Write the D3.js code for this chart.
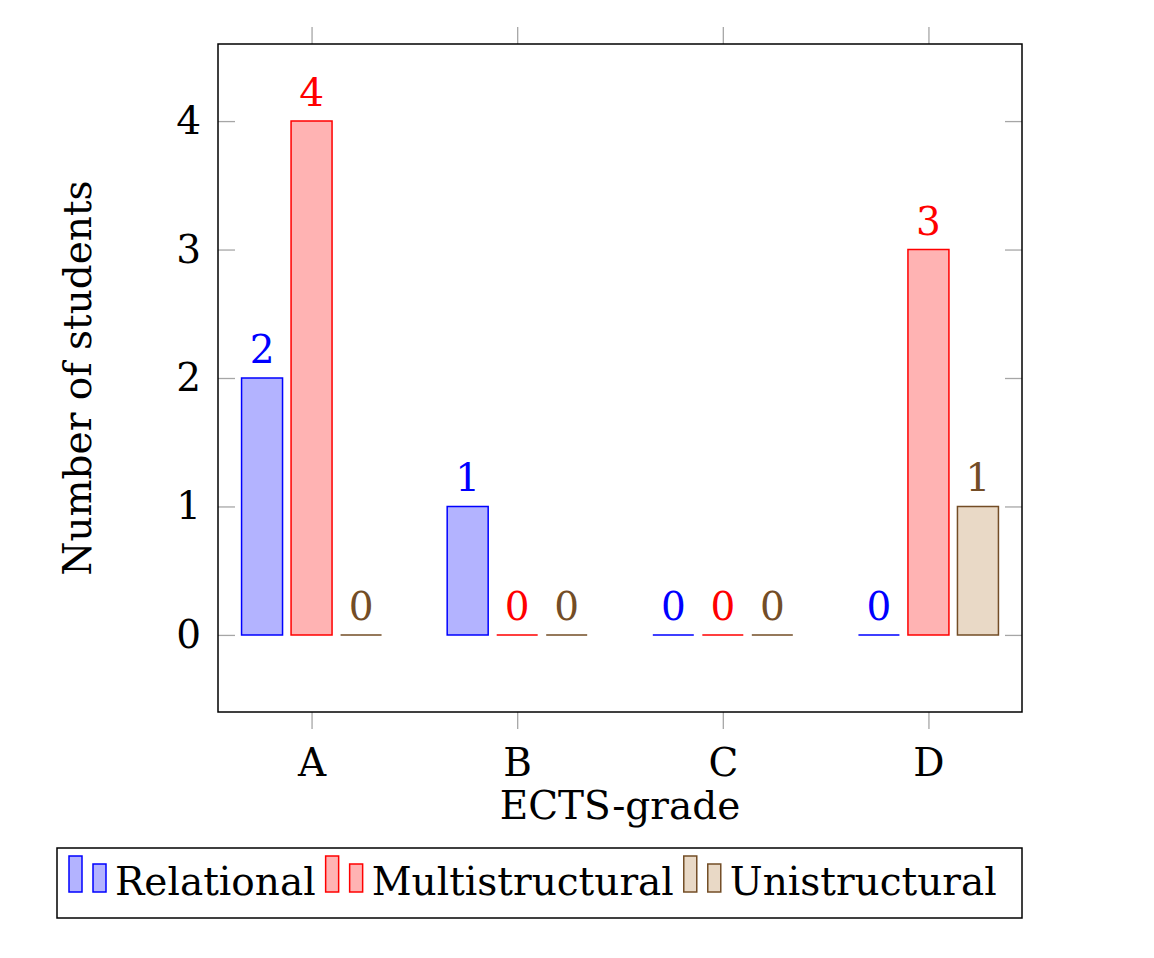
<!DOCTYPE html>
<html>
<head>
    <meta charset="utf-8">
    <title>Number of students per ECTS-grade</title>
    <script src="https://cdn.jsdelivr.net/npm/d3@7"></script>
    <style>
        body { margin: 0; background: #fff; }
        svg text { font-family: "DejaVu Serif", serif; }
    </style>
</head>
<body>
    <div id="chart"></div>

    <script>
        // data
        var grades = ["A", "B", "C", "D"];
        var seriesNames = ["Relational", "Multistructural", "Unistructural"];
        var relational = [2, 1, 0, 0];
        var multistructural = [4, 0, 0, 3];
        var unistructural = [0, 0, 0, 1];
        var yTicks = [0, 1, 2, 3, 4];

        var strokeColors = ["#0000ff", "#ff0000", "#734d26"];
        var fillColors = ["#b3b3ff", "#ffb3b3", "#e9d9c6"];

        var series = [relational, multistructural, unistructural];
        var fontSize = 39;

        // plot box (window.top is read-only, so no "top" here)
        var width = 1154, height = 958,
            plotLeft = 218, plotRight = 1022, plotTop = 44, plotBottom = 712;

        var svg = d3.select("#chart").append("svg")
            .attr("width", width)
            .attr("height", height);

        var x = d3.scalePoint().domain(grades).range([plotLeft, plotRight]).padding(0.455);
        var xs = d3.scaleBand().domain(seriesNames).range([-70, 70]).paddingInner(0.172);
        var y = d3.scaleLinear().domain([-0.6, 4.6]).range([plotBottom, plotTop]);

        function styleAxis(g) {
            g.select(".domain").remove();
            g.selectAll(".tick line").attr("stroke", "#a6a6a6").attr("stroke-width", 1.3);
            g.selectAll(".tick text")
                .attr("fill", "#000")
                .style("font-size", fontSize + "px")
                .style("font-family", "DejaVu Serif, serif");
        }

        // axes: x ticks point outward, y ticks point inward
        svg.append("g")
            .attr("transform", "translate(0," + plotBottom + ")")
            .call(d3.axisBottom(x).tickSize(17).tickPadding(19))
            .call(styleAxis);

        svg.append("g")
            .attr("transform", "translate(0," + plotTop + ")")
            .call(d3.axisTop(x).tickSize(17).tickFormat(""))
            .call(styleAxis);

        svg.append("g")
            .attr("transform", "translate(" + plotLeft + ",0)")
            .call(d3.axisLeft(y).tickValues(yTicks).tickSize(-17).tickPadding(17).tickFormat(d3.format("d")))
            .call(styleAxis);

        svg.append("g")
            .attr("transform", "translate(" + plotRight + ",0)")
            .call(d3.axisRight(y).tickValues(yTicks).tickSize(-17).tickFormat(""))
            .call(styleAxis);

        // bars as paths, so a zero bar still shows as a flat line
        series.forEach(function(values, i) {
            var grp = svg.append("g");
            var name = seriesNames[i];

            grp.selectAll("path").data(values).enter().append("path")
                .attr("d", function(d, j) {
                    var x0 = x(grades[j]) + xs(name), x1 = x0 + xs.bandwidth(),
                        y0 = y(0), y1 = y(d);
                    return "M" + x0 + "," + y0 + "H" + x1 + "V" + y1 + "H" + x0 + "Z";
                })
                .attr("fill", fillColors[i])
                .attr("stroke", strokeColors[i])
                .attr("stroke-width", 1.5);

            grp.selectAll("text").data(values).enter().append("text")
                .attr("x", function(d, j) { return x(grades[j]) + xs(name) + xs.bandwidth() / 2; })
                .attr("y", function(d) { return y(d) - 15; })
                .attr("text-anchor", "middle")
                .attr("fill", strokeColors[i])
                .style("font-size", fontSize + "px")
                .text(function(d) { return d; });
        });

        // frame
        svg.append("rect")
            .attr("x", plotLeft).attr("y", plotTop)
            .attr("width", plotRight - plotLeft).attr("height", plotBottom - plotTop)
            .attr("fill", "none")
            .attr("stroke", "#000")
            .attr("stroke-width", 1.5);

        // axis titles
        svg.append("text")
            .attr("x", (plotLeft + plotRight) / 2)
            .attr("y", 819)
            .attr("text-anchor", "middle")
            .style("font-size", fontSize + "px")
            .text("ECTS-grade");

        svg.append("text")
            .attr("transform", "translate(91," + (plotTop + plotBottom) / 2 + ") rotate(-90)")
            .attr("text-anchor", "middle")
            .style("font-size", fontSize + "px")
            .text("Number of students");

        // legend
        var legend = svg.append("g");
        legend.append("rect")
            .attr("x", 57).attr("y", 848)
            .attr("width", 965).attr("height", 70)
            .attr("fill", "#fff")
            .attr("stroke", "#000")
            .attr("stroke-width", 1.5);

        var cx = 69;
        seriesNames.forEach(function(name, i) {
            legend.append("rect")
                .attr("x", cx).attr("y", 856)
                .attr("width", 13).attr("height", 36)
                .attr("fill", fillColors[i]).attr("stroke", strokeColors[i]).attr("stroke-width", 1.5);
            legend.append("rect")
                .attr("x", cx + 24).attr("y", 864)
                .attr("width", 13).attr("height", 28)
                .attr("fill", fillColors[i]).attr("stroke", strokeColors[i]).attr("stroke-width", 1.5);
            var t = legend.append("text")
                .attr("x", cx + 46)
                .attr("y", 895)
                .style("font-size", fontSize + "px")
                .text(name);
            cx = cx + 46 + t.node().getComputedTextLength() + 10;
        });
    </script>
</body>
</html>
